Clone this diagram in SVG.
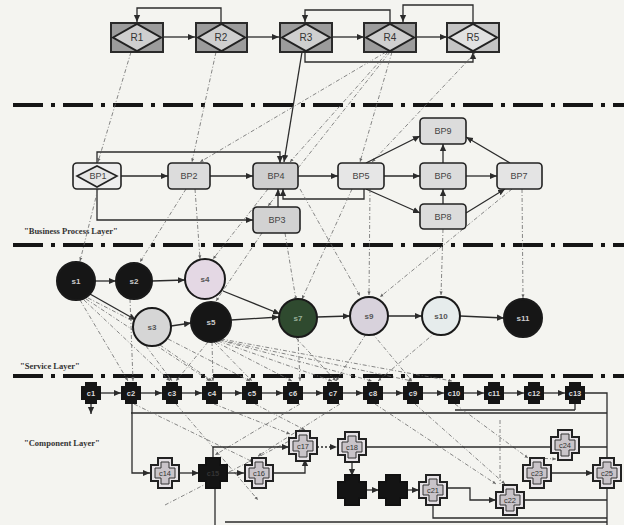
<svg xmlns="http://www.w3.org/2000/svg" width="624" height="525" viewBox="0 0 624 525">
<style>
.bg{fill:#f4f4f0}
.sep{stroke:#151515;stroke-width:4;stroke-dasharray:30 8 4 8;fill:none}
.rbox{fill:#9c9c9c;stroke:#2a2a2a;stroke-width:2}
.rdia{fill:#cfcfcf;stroke:#222;stroke-width:2}
.rt{font-family:"Liberation Sans",Arial,sans-serif;font-size:10px;fill:#333;text-anchor:middle}
.bp{fill:#dcdcdc;stroke:#222;stroke-width:1.6}
.bpt{font-family:"Liberation Sans",Arial,sans-serif;font-size:9px;fill:#444;text-anchor:middle}
.sc{stroke:#1a1a1a;stroke-width:2}
.st{font-family:"Liberation Sans",Arial,sans-serif;font-size:8px;font-weight:bold;text-anchor:middle}
.ct{font-family:"Liberation Sans",Arial,sans-serif;font-size:7.5px;font-weight:bold;fill:#ddd;text-anchor:middle}
.ctd{font-family:"Liberation Sans",Arial,sans-serif;font-size:7.5px;fill:#333;text-anchor:middle}
.lay{font-family:"Liberation Serif","Times New Roman",serif;font-size:8.5px;font-weight:bold;fill:#333}
.e{stroke:#2b2b2b;stroke-width:1.3;fill:none;marker-end:url(#ah)}
.l{stroke:#2b2b2b;stroke-width:1.3;fill:none}
.d{stroke:#6a6a6a;stroke-width:0.8;fill:none;stroke-dasharray:4 2 1 2;marker-end:url(#sh)}
.dn{stroke:#6a6a6a;stroke-width:0.8;fill:none;stroke-dasharray:4 2 1 2}
</style>
<defs>
<marker id="ah" viewBox="0 0 10 10" refX="9" refY="5" markerWidth="6" markerHeight="6" orient="auto"><path d="M0,1 L9,5 L0,9 z" fill="#2b2b2b"/></marker>
<marker id="sh" viewBox="0 0 10 10" refX="9" refY="5" markerWidth="5" markerHeight="5" orient="auto"><path d="M0,1 L9,5 L0,9 z" fill="#666"/></marker>
<path id="cx" d="M-6,-11 H6 V-7 H10 V7 H6 V11 H-6 V7 H-10 V-7 H-6 Z"/>
<g id="wx"><path d="M-7,-15 H7 V-8 H14 V8 H7 V15 H-7 V8 H-14 V-8 H-7 Z" fill="#e6e2e6" stroke="#222" stroke-width="2"/><path d="M-4,-11 H4 V-5 H10 V5 H4 V11 H-4 V5 H-10 V-5 H-4 Z" fill="#c9c4c9" stroke="#333" stroke-width="1"/></g>
<g id="bx"><path d="M-7,-15 H7 V-8 H14 V8 H7 V15 H-7 V8 H-14 V-8 H-7 Z" fill="#141414" stroke="#111" stroke-width="2"/></g>
</defs>
<rect class="bg" x="0" y="0" width="624" height="525"/>

<!-- separators -->
<line class="sep" x1="13" y1="105" x2="624" y2="105"/>
<line class="sep" x1="13" y1="245" x2="624" y2="245"/>
<line class="sep" x1="13" y1="376" x2="624" y2="376"/>

<text class="lay" x="24" y="234">"Business Process Layer"</text>
<text class="lay" x="20" y="369">"Service Layer"</text>
<text class="lay" x="24" y="446">"Component Layer"</text>

<g id="connectors">
<!-- Resource layer -->
<line class="e" x1="163" y1="37" x2="195" y2="37"/>
<line class="e" x1="247" y1="37" x2="279" y2="37"/>
<line class="e" x1="332" y1="37" x2="364" y2="37"/>
<line class="e" x1="416" y1="37" x2="447" y2="37"/>
<path class="e" d="M221,22 V8 H137 V22" stroke="#555"/>
<path class="e" d="M390,22 V10 H305 V22" stroke="#555"/>
<path class="e" d="M473,22 V5 H403 V22" stroke="#555"/>
<path class="e" d="M305,52 V62 H473 V52" stroke="#555"/>
<!-- R to BP -->
<line class="d" x1="131" y1="52" x2="98" y2="162"/>
<line class="d" x1="216" y1="52" x2="192" y2="162"/>
<line class="e" x1="302" y1="52" x2="284" y2="162" stroke="#444" stroke-width="1"/>
<line class="d" x1="386" y1="52" x2="200" y2="162"/>
<line class="d" x1="388" y1="52" x2="290" y2="162"/>
<line class="d" x1="390" y1="52" x2="268" y2="206"/>
<line class="d" x1="392" y1="52" x2="360" y2="162"/>
<line class="d" x1="476" y1="52" x2="372" y2="162"/>
<!-- BP layer -->
<line class="e" x1="121" y1="176" x2="168" y2="176" stroke="#7a6a30"/>
<line class="e" x1="210" y1="176" x2="253" y2="176" stroke="#3a5a7a"/>
<line class="e" x1="298" y1="176" x2="338" y2="176" stroke="#8a5a30"/>
<line class="e" x1="384" y1="176" x2="420" y2="176" stroke="#6a2a2a"/>
<line class="e" x1="466" y1="176" x2="497" y2="176"/>
<path class="e" d="M97,163 V152 H280 V163" stroke="#7a3a2a"/>
<path class="e" d="M97,189 V220 H253" stroke="#4a6a4a"/>
<line class="e" x1="278" y1="207" x2="278" y2="189"/>
<path class="e" d="M364,189 V199 H283 V189" stroke="#3a7a9a"/>
<line class="e" x1="366" y1="163" x2="420" y2="136"/>
<line class="e" x1="366" y1="189" x2="420" y2="213"/>
<line class="e" x1="443" y1="163" x2="443" y2="144"/>
<line class="e" x1="443" y1="204" x2="443" y2="189"/>
<line class="e" x1="510" y1="163" x2="466" y2="137"/>
<line class="e" x1="466" y1="213" x2="505" y2="189"/>
<!-- BP to S -->
<line class="d" x1="98" y1="189" x2="80" y2="261"/>
<line class="d" x1="186" y1="189" x2="140" y2="262"/>
<line class="d" x1="195" y1="189" x2="200" y2="259"/>
<line class="d" x1="268" y1="189" x2="213" y2="259"/>
<line class="d" x1="262" y1="233" x2="216" y2="301"/>
<line class="d" x1="285" y1="233" x2="296" y2="300"/>
<line class="d" x1="352" y1="189" x2="302" y2="299"/>
<line class="d" x1="370" y1="189" x2="369" y2="295"/>
<line class="d" x1="300" y1="189" x2="360" y2="296"/>
<line class="d" x1="443" y1="229" x2="441" y2="295"/>
<line class="d" x1="512" y1="189" x2="380" y2="297"/>
<line class="d" x1="522" y1="189" x2="523" y2="298"/>
<!-- Service layer -->
<line class="e" x1="95" y1="281" x2="116" y2="281"/>
<line class="e" x1="152" y1="281" x2="185" y2="280"/>
<line class="e" x1="223" y1="291" x2="280" y2="314"/>
<line class="e" x1="90" y1="294" x2="136" y2="320"/>
<line class="e" x1="171" y1="326" x2="191" y2="323"/>
<line class="e" x1="231" y1="320" x2="279" y2="317"/>
<line class="e" x1="317" y1="317" x2="350" y2="316"/>
<line class="e" x1="388" y1="316" x2="422" y2="316"/>
<line class="e" x1="460" y1="316" x2="504" y2="318"/>
<!-- S to C -->
<line class="d" x1="80" y1="300" x2="128" y2="381"/>
<line class="d" x1="84" y1="300" x2="170" y2="381"/>
<line class="d" x1="86" y1="299" x2="210" y2="381"/>
<line class="d" x1="88" y1="298" x2="250" y2="381"/>
<line class="d" x1="130" y1="299" x2="133" y2="381"/>
<line class="d" x1="146" y1="346" x2="172" y2="381"/>
<line class="d" x1="160" y1="345" x2="212" y2="381"/>
<line class="d" x1="208" y1="342" x2="176" y2="381"/>
<line class="d" x1="212" y1="342" x2="213" y2="381"/>
<line class="d" x1="214" y1="342" x2="252" y2="381"/>
<line class="d" x1="216" y1="342" x2="292" y2="381"/>
<line class="d" x1="218" y1="341" x2="332" y2="381"/>
<line class="d" x1="219" y1="340" x2="372" y2="381"/>
<line class="d" x1="220" y1="340" x2="412" y2="381"/>
<line class="d" x1="221" y1="339" x2="452" y2="381"/>
<line class="d" x1="298" y1="338" x2="300" y2="381"/>
<line class="d" x1="296" y1="338" x2="336" y2="381"/>
<line class="d" x1="372" y1="333" x2="412" y2="381"/>
<line class="d" x1="366" y1="334" x2="336" y2="381"/>
<line class="d" x1="436" y1="332" x2="378" y2="381"/>
<!-- Component row -->
<line class="e" x1="101" y1="393" x2="121" y2="393"/>
<line class="e" x1="141" y1="393" x2="162" y2="393"/>
<line class="e" x1="182" y1="393" x2="202" y2="393"/>
<line class="e" x1="222" y1="393" x2="242" y2="393"/>
<line class="e" x1="262" y1="393" x2="283" y2="393"/>
<line class="e" x1="303" y1="393" x2="323" y2="393"/>
<line class="e" x1="343" y1="393" x2="363" y2="393"/>
<line class="e" x1="383" y1="393" x2="403" y2="393"/>
<line class="e" x1="423" y1="393" x2="444" y2="393"/>
<line class="e" x1="464" y1="393" x2="484" y2="393"/>
<line class="e" x1="504" y1="393" x2="524" y2="393"/>
<line class="e" x1="544" y1="393" x2="565" y2="393"/>
<path class="l" d="M585,393 H607 V525"/>
<line class="l" x1="131" y1="413" x2="607" y2="413" stroke="#2a2a5a"/>
<line class="l" x1="455" y1="410" x2="575" y2="410" stroke="#c9a64a" stroke-width="1.5"/>
<path class="l" d="M575,404 V410"/>
<line class="e" x1="91" y1="404" x2="91" y2="414"/>
<path class="e" d="M132,404 V473 H150"/>
<line class="d" x1="134" y1="404" x2="253" y2="462"/>
<line class="d" x1="176" y1="404" x2="258" y2="500"/>
<line class="d" x1="214" y1="404" x2="290" y2="434"/>
<line class="d" x1="255" y1="404" x2="305" y2="430"/>
<line class="d" x1="300" y1="404" x2="215" y2="455"/>
<line class="d" x1="340" y1="404" x2="258" y2="456"/>
<line class="d" x1="375" y1="404" x2="496" y2="484"/>
<line class="d" x1="415" y1="404" x2="505" y2="484"/>
<line class="d" x1="455" y1="404" x2="528" y2="458"/>
<line class="dn" x1="500" y1="420" x2="500" y2="484"/>
<line class="d" x1="165" y1="505" x2="297" y2="437"/>
<!-- bottom components -->
<line class="e" x1="179" y1="473" x2="199" y2="473" stroke="#2a4a8a"/>
<line class="e" x1="227" y1="473" x2="244" y2="473"/>
<path class="e" d="M274,473 H305 V459" stroke="#2a2a8a"/>
<path class="e" d="M213,458 V447 H289" stroke="#6a8a4a"/>
<line class="l" x1="215" y1="488" x2="215" y2="525"/>
<line class="e" x1="317" y1="447" x2="337" y2="447" stroke="#777" stroke-dasharray="2 2"/>
<line class="l" x1="366" y1="447" x2="607" y2="447" stroke="#2a2a5a"/>
<line class="e" x1="352" y1="461" x2="352" y2="476"/>
<line class="e" x1="366" y1="490" x2="379" y2="490"/>
<line class="e" x1="407" y1="490" x2="419" y2="490"/>
<path class="e" d="M447,488 H470 V500 H496" stroke="#333"/>
<line class="l" x1="524" y1="500" x2="607" y2="500" stroke="#2a2a5a"/>
<path class="l" d="M433,505 V518 H607" stroke="#333"/>
<line class="l" x1="225" y1="522" x2="607" y2="522" stroke="#d08a80" stroke-width="1"/>
<line class="e" x1="551" y1="473" x2="593" y2="473" stroke="#c9a64a"/>
<line class="d" x1="535" y1="458" x2="556" y2="459"/>
</g>

<!-- Resource nodes -->
<g id="R1"><rect class="rbox" x="111" y="23" width="52" height="29"/><path class="rdia" d="M113,37.5 L137,24 L161,37.5 L137,51 Z"/><text class="rt" x="137" y="41">R1</text></g>
<g id="R2"><rect class="rbox" x="196" y="23" width="51" height="29"/><path class="rdia" d="M198,37.5 L221.5,24 L245,37.5 L221.5,51 Z"/><text class="rt" x="221" y="41">R2</text></g>
<g id="R3"><rect class="rbox" x="280" y="23" width="52" height="29"/><path class="rdia" d="M282,37.5 L306,24 L330,37.5 L306,51 Z"/><text class="rt" x="306" y="41">R3</text></g>
<g id="R4"><rect class="rbox" x="364" y="23" width="52" height="29"/><path class="rdia" d="M366,37.5 L390,24 L414,37.5 L390,51 Z"/><text class="rt" x="390" y="41">R4</text></g>
<g id="R5"><rect class="rbox" x="447" y="23" width="52" height="29" style="fill:#c4c4c4"/><path class="rdia" d="M449,37.5 L473,24 L497,37.5 L473,51 Z" style="fill:#e2e2e2"/><text class="rt" x="473" y="41">R5</text></g>

<!-- Business process nodes -->
<g id="BP1"><rect class="bp" x="73" y="163" width="48" height="26" rx="4" style="fill:#eeeeee"/><path d="M77,176 L97,166 L117,176 L97,187 Z" fill="#e6e6e6" stroke="#222" stroke-width="1.6"/><text class="bpt" x="98" y="179">BP1</text></g>
<g id="BP2"><rect class="bp" x="168" y="163" width="42" height="26" rx="4"/><text class="bpt" x="189" y="179">BP2</text></g>
<g id="BP4"><rect class="bp" x="253" y="163" width="45" height="26" rx="4" style="fill:#cfcfcf"/><text class="bpt" x="276" y="179">BP4</text></g>
<g id="BP5"><rect class="bp" x="338" y="163" width="46" height="26" rx="4" style="fill:#e6e6e6"/><text class="bpt" x="361" y="179">BP5</text></g>
<g id="BP6"><rect class="bp" x="420" y="163" width="46" height="26" rx="4"/><text class="bpt" x="443" y="179">BP6</text></g>
<g id="BP7"><rect class="bp" x="497" y="163" width="45" height="26" rx="4" style="fill:#e4e4e4"/><text class="bpt" x="519" y="179">BP7</text></g>
<g id="BP9"><rect class="bp" x="420" y="118" width="46" height="26" rx="4"/><text class="bpt" x="443" y="134">BP9</text></g>
<g id="BP8"><rect class="bp" x="420" y="204" width="46" height="25" rx="4"/><text class="bpt" x="443" y="220">BP8</text></g>
<g id="BP3"><rect class="bp" x="253" y="207" width="47" height="26" rx="4" style="fill:#d2d2d2"/><text class="bpt" x="277" y="223">BP3</text></g>

<!-- Service nodes -->
<g id="s1"><circle class="sc" cx="76" cy="281" r="19" fill="#161616"/><text class="st" x="76" y="284" fill="#ccc">s1</text></g>
<g id="s2"><circle class="sc" cx="134" cy="281" r="18" fill="#161616"/><text class="st" x="134" y="284" fill="#ccc">s2</text></g>
<g id="s4"><circle class="sc" cx="205" cy="279" r="20" fill="#e4d8e4"/><text class="st" x="205" y="282" fill="#555">s4</text></g>
<g id="s3"><circle class="sc" cx="152" cy="327" r="19" fill="#d6d6d6"/><text class="st" x="152" y="330" fill="#555">s3</text></g>
<g id="s5"><circle class="sc" cx="211" cy="322" r="20" fill="#161616"/><text class="st" x="211" y="325" fill="#ccc">s5</text></g>
<g id="s7"><circle class="sc" cx="298" cy="318" r="19" fill="#2f4a2f"/><text class="st" x="298" y="321" fill="#9ab09a">s7</text></g>
<g id="s9"><circle class="sc" cx="369" cy="316" r="19" fill="#d8d2dc"/><text class="st" x="369" y="319" fill="#555">s9</text></g>
<g id="s10"><circle class="sc" cx="441" cy="316" r="19" fill="#e6ecec"/><text class="st" x="441" y="319" fill="#555">s10</text></g>
<g id="s11"><circle class="sc" cx="523" cy="318" r="19" fill="#161616"/><text class="st" x="523" y="321" fill="#ccc">s11</text></g>

<!-- Component row -->
<g id="c1"><use href="#cx" x="91" y="393" fill="#151515"/><text class="ct" x="91" y="396">c1</text></g>
<g id="c2"><use href="#cx" x="131" y="393" fill="#151515"/><text class="ct" x="131" y="396">c2</text></g>
<g id="c3"><use href="#cx" x="172" y="393" fill="#151515"/><text class="ct" x="172" y="396">c3</text></g>
<g id="c4"><use href="#cx" x="212" y="393" fill="#151515"/><text class="ct" x="212" y="396">c4</text></g>
<g id="c5"><use href="#cx" x="252" y="393" fill="#151515"/><text class="ct" x="252" y="396">c5</text></g>
<g id="c6"><use href="#cx" x="293" y="393" fill="#151515"/><text class="ct" x="293" y="396">c6</text></g>
<g id="c7"><use href="#cx" x="333" y="393" fill="#151515"/><text class="ct" x="333" y="396">c7</text></g>
<g id="c8"><use href="#cx" x="373" y="393" fill="#151515"/><text class="ct" x="373" y="396">c8</text></g>
<g id="c9"><use href="#cx" x="413" y="393" fill="#151515"/><text class="ct" x="413" y="396">c9</text></g>
<g id="c10"><use href="#cx" x="454" y="393" fill="#151515"/><text class="ct" x="454" y="396">c10</text></g>
<g id="c11"><use href="#cx" x="494" y="393" fill="#151515"/><text class="ct" x="494" y="396">c11</text></g>
<g id="c12"><use href="#cx" x="534" y="393" fill="#151515"/><text class="ct" x="534" y="396">c12</text></g>
<g id="c13"><use href="#cx" x="575" y="393" fill="#151515"/><text class="ct" x="575" y="396">c13</text></g>

<!-- Bottom components -->
<g id="c14"><use href="#wx" x="165" y="473"/><text class="ctd" x="165" y="476">c14</text></g>
<g id="c15"><use href="#bx" x="213" y="473"/><text class="ct" x="213" y="476" style="fill:#333">c15</text></g>
<g id="c16"><use href="#wx" x="259" y="473"/><text class="ctd" x="259" y="476">c16</text></g>
<g id="c17"><use href="#wx" x="303" y="446"/><text class="ctd" x="303" y="449">c17</text></g>
<g id="c18"><use href="#wx" x="352" y="447"/><text class="ctd" x="352" y="450">c18</text></g>
<g id="c19"><use href="#bx" x="352" y="490"/></g>
<g id="c20"><use href="#bx" x="393" y="490"/></g>
<g id="c21"><use href="#wx" x="433" y="490"/><text class="ctd" x="433" y="493">c21</text></g>
<g id="c22"><use href="#wx" x="510" y="500"/><text class="ctd" x="510" y="503">c22</text></g>
<g id="c23"><use href="#wx" x="537" y="473"/><text class="ctd" x="537" y="476">c23</text></g>
<g id="c24"><use href="#wx" x="565" y="445"/><text class="ctd" x="565" y="448">c24</text></g>
<g id="c25"><use href="#wx" x="607" y="473"/><text class="ctd" x="607" y="476">c25</text></g>
</svg>
